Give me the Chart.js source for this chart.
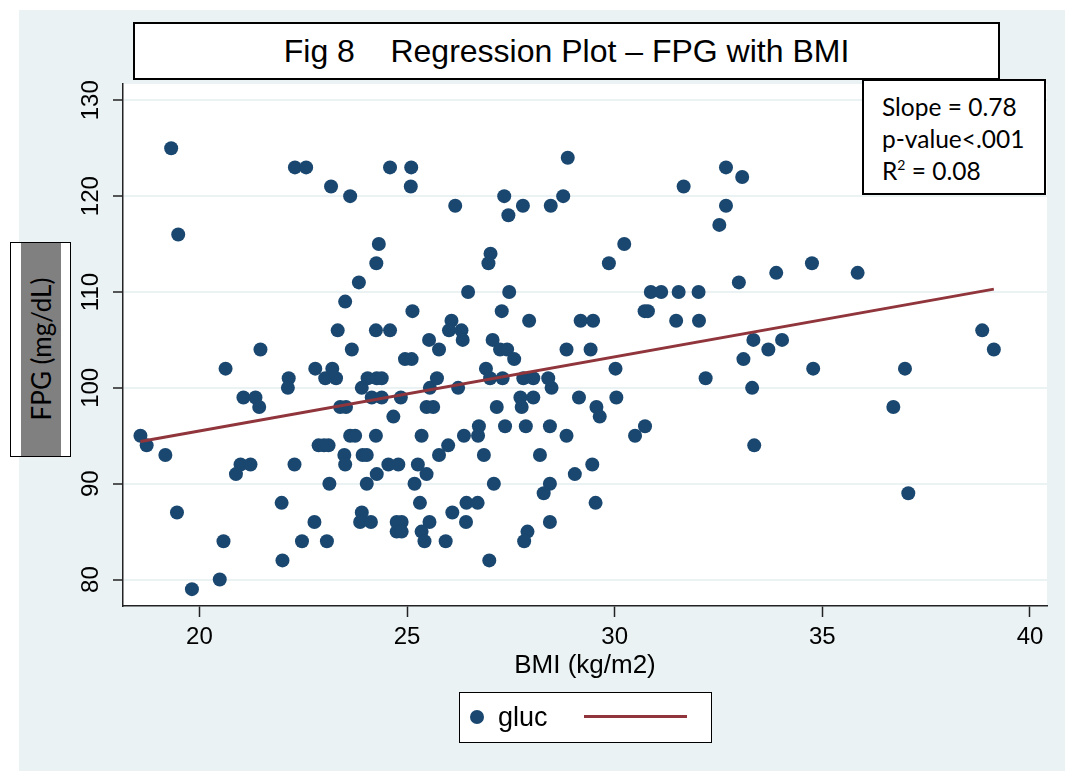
<!DOCTYPE html>
<html>
<head>
<meta charset="utf-8">
<script src="https://cdn.jsdelivr.net/npm/chart.js@4"></script>
<style>
  body { margin: 0; background: #fff; width: 1065px; height: 771px; overflow: hidden; position: relative; }
  #bg { position: absolute; left: 19px; top: 10px; width: 1046px; height: 761px; background: #EAF2F3; }
  #c { position: absolute; left: 0; top: 0; }
  .box { position: absolute; background: #fff; border: 2px solid #000; box-sizing: border-box; }
  #title { left: 133px; top: 22px; width: 867px; height: 58px; font: 32px "Liberation Sans", Arial, sans-serif;
           text-align: center; line-height: 54px; white-space: pre; }
  #note { left: 862px; top: 79px; width: 184px; height: 116px; font: 24.5px Lato, sans-serif;
          padding: 10px 0 0 18px; line-height: 32px; }
  #note sup { font-size: 14px; vertical-align: 10px; line-height: 0; }
  #ylab { left: 10px; top: 242px; width: 61px; height: 215px; border-width: 1.5px; }
  #ylab .fill { position: absolute; left: 10px; top: 0; width: 40px; height: 100%; background: #808080; }
  #ylab .txt { position: absolute; left: 30px; top: 106px; transform: translate(-50%, -50%) rotate(-90deg);
               font: 26px Lato, sans-serif; white-space: nowrap; }
  #xtitle { position: absolute; left: 585px; top: 664px; transform: translate(-50%, -50%);
            font: 26px "Liberation Sans", Arial, sans-serif; white-space: nowrap; }
  #legend { left: 459px; top: 692px; width: 253px; height: 51px; border-width: 1.5px; }
  #legend .dot { position: absolute; left: 10px; top: 17px; width: 14px; height: 14px; border-radius: 50%; background: #1A476F; }
  #legend .lab { position: absolute; left: 38px; top: 24px; transform: translateY(-50%); font: 27px "Liberation Sans", Arial, sans-serif; }
  #legend .ln { position: absolute; left: 124px; top: 22px; width: 103px; height: 3px; background: #90353B; }
</style>
</head>
<body>
<div id="bg"></div>
<canvas id="c" width="1065" height="771"></canvas>
<div id="title" class="box">Fig 8    Regression Plot – FPG with BMI</div>
<div id="note" class="box">Slope = 0.78<br>p-value&lt;.001<br>R<sup>2</sup> = 0.08</div>
<div id="ylab" class="box"><div class="fill"></div><div class="txt">FPG (mg/dL)</div></div>
<div id="xtitle">BMI (kg/m2)</div>
<div id="legend" class="box"><span class="dot"></span><span class="lab">gluc</span><span class="ln"></span></div>
<script>
// observed points, one line per FPG level
const bmi = [
  19.32,
  28.87,
  22.30, 22.57, 24.59, 25.10, 32.68,
  33.07,
  23.17, 25.09, 31.66,
  23.63, 27.34, 28.76,
  26.16, 27.79, 28.46, 32.68,
  27.44,
  32.52,
  19.49,
  24.32, 30.23,
  27.01,
  24.26, 26.96, 29.86, 34.75,
  33.89, 35.85,
  23.84, 32.99,
  26.47, 27.46, 30.87, 31.12, 31.54, 32.02,
  23.51,
  25.13, 27.28, 30.72, 30.80,
  26.07, 27.94, 29.18, 29.48, 31.48, 32.03,
  23.33, 24.25, 24.59, 26.01, 26.31, 38.85,
  25.53, 26.34, 27.06, 33.34, 34.03,
  21.47, 23.67, 25.77, 27.24, 27.41, 28.84, 29.42, 33.70, 39.13,
  24.95, 25.11, 27.58, 33.10,
  20.63, 22.79, 23.20, 26.90, 30.02, 34.78, 36.99,
  22.15, 23.03, 23.29, 24.05, 24.27, 24.39, 25.72, 27.00, 27.30, 27.80, 28.04, 28.40, 32.19,
  22.13, 23.91, 25.55, 26.23, 28.48, 33.31,
  21.06, 21.35, 24.15, 24.39, 24.85, 27.73, 28.04, 29.14, 30.04,
  21.44, 23.39, 23.53, 25.47, 25.63, 27.16, 27.76, 29.56, 36.71,
  24.67, 29.64,
  26.73, 27.36, 27.86, 28.44, 30.73,
  18.58, 23.63, 23.75, 24.25, 25.35, 26.37, 26.71, 28.84, 30.49,
  18.73, 22.87, 23.00, 23.11, 25.99, 33.36,
  19.18, 23.49, 23.93, 24.03, 25.77, 26.85, 28.20,
  20.99, 21.23, 22.29, 23.51, 24.55, 24.79, 25.26, 29.46,
  20.88, 24.27, 25.47, 29.04,
  23.13, 24.03, 25.18, 27.09, 28.44,
  28.29, 37.07,
  21.98, 25.31, 26.43, 26.70, 29.54,
  19.46, 23.91, 26.09,
  22.77, 23.87, 24.13, 24.75, 24.87, 25.54, 26.42, 28.44,
  24.75, 24.87, 25.35, 27.90,
  20.58, 22.47, 23.07, 25.42, 25.93, 27.82,
  22.00, 26.98,
  20.49,
  19.82
];
const fpg = [
  125,
  124,
  123, 123, 123, 123, 123,
  122,
  121, 121, 121,
  120, 120, 120,
  119, 119, 119, 119,
  118,
  117,
  116,
  115, 115,
  114,
  113, 113, 113, 113,
  112, 112,
  111, 111,
  110, 110, 110, 110, 110, 110,
  109,
  108, 108, 108, 108,
  107, 107, 107, 107, 107, 107,
  106, 106, 106, 106, 106, 106,
  105, 105, 105, 105, 105,
  104, 104, 104, 104, 104, 104, 104, 104, 104,
  103, 103, 103, 103,
  102, 102, 102, 102, 102, 102, 102,
  101, 101, 101, 101, 101, 101, 101, 101, 101, 101, 101, 101, 101,
  100, 100, 100, 100, 100, 100,
  99, 99, 99, 99, 99, 99, 99, 99, 99,
  98, 98, 98, 98, 98, 98, 98, 98, 98,
  97, 97,
  96, 96, 96, 96, 96,
  95, 95, 95, 95, 95, 95, 95, 95, 95,
  94, 94, 94, 94, 94, 94,
  93, 93, 93, 93, 93, 93, 93,
  92, 92, 92, 92, 92, 92, 92, 92,
  91, 91, 91, 91,
  90, 90, 90, 90, 90,
  89, 89,
  88, 88, 88, 88, 88,
  87, 87, 87,
  86, 86, 86, 86, 86, 86, 86, 86,
  85, 85, 85, 85,
  84, 84, 84, 84, 84, 84,
  82, 82,
  80,
  79
];

// fitted line ends
const fitBmi = [18.58, 39.13];
const fitFpg = [94.4, 110.3];

const xTicks = [20, 25, 30, 35, 40];
const yTicks = [80, 90, 100, 110, 120, 130];

const navy = "#1A476F";
const maroon = "#90353B";
const armFont = '"Liberation Sans", Arial, sans-serif';

// white plot region + rotated y tick labels (Stata style)
const stataBits = {
  id: "stataBits",
  beforeDraw(chart) {
    const a = chart.chartArea;
    const ctx = chart.ctx;
    ctx.save();
    ctx.fillStyle = "#fff";
    ctx.fillRect(a.left, a.top, a.right - a.left, a.bottom - a.top);
    ctx.restore();
  },
  afterDraw(chart) {
    const ys = chart.scales.y;
    const ctx = chart.ctx;
    ctx.save();
    ctx.fillStyle = "#000";
    ctx.font = "24px " + armFont;
    ctx.textAlign = "center";
    ctx.textBaseline = "middle";
    yTicks.forEach((v) => {
      ctx.save();
      ctx.translate(91, ys.getPixelForValue(v));
      ctx.rotate(-Math.PI / 2);
      ctx.fillText(String(v), 0, 0);
      ctx.restore();
    });
    ctx.restore();
  }
};

new Chart(document.getElementById("c"), {
  type: "scatter",
  data: {
    datasets: [
      {
        type: "line",
        label: "fit",
        data: fitBmi.map((x, i) => ({ x: x, y: fitFpg[i] })),
        borderColor: maroon,
        borderWidth: 3,
        pointRadius: 0,
        fill: false,
        order: 0
      },
      {
        label: "gluc",
        data: bmi.map((x, i) => ({ x: x, y: fpg[i] })),
        backgroundColor: navy,
        borderWidth: 0,
        pointRadius: 7,
        order: 1
      }
    ]
  },
  options: {
    responsive: false,
    animation: false,
    layout: { padding: { top: 84, right: 18, bottom: 0, left: 0 } },
    plugins: { legend: { display: false }, tooltip: { enabled: false } },
    scales: {
      x: {
        type: "linear",
        min: 18.16,
        max: 40.41,
        afterBuildTicks: (s) => { s.ticks = xTicks.map((v) => ({ value: v })); },
        afterFit: (s) => { s.height = 165; },
        grid: { drawOnChartArea: false, drawTicks: true, tickLength: 11, tickColor: "#222", tickWidth: 1.5 },
        border: { color: "#222", width: 1.5 },
        ticks: { color: "#000", font: { family: armFont, size: 24 }, padding: 6, maxRotation: 0 }
      },
      y: {
        type: "linear",
        min: 77.24,
        max: 131.7,
        afterBuildTicks: (s) => { s.ticks = yTicks.map((v) => ({ value: v })); },
        afterFit: (s) => { s.width = 123; },
        grid: { color: "#EAF2F3", lineWidth: 2, drawTicks: true, tickLength: 10, tickColor: "#222", tickWidth: 1.5 },
        border: { color: "#222", width: 1.5 },
        ticks: { display: false }
      }
    }
  },
  plugins: [stataBits]
});
</script>
</body>
</html>
